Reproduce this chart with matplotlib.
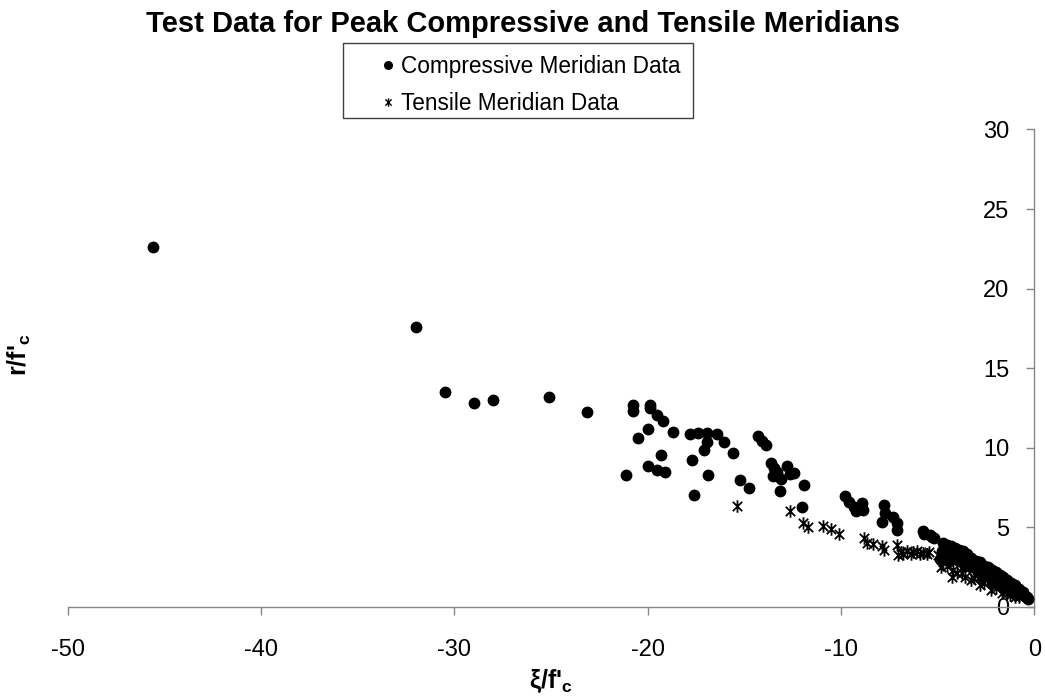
import matplotlib
matplotlib.use("Agg")
import matplotlib.pyplot as plt
from matplotlib.path import Path
from matplotlib.lines import Line2D
from matplotlib.patches import Rectangle

plt.rcParams['font.family'] = ['Liberation Sans', 'DejaVu Sans']
plt.rcParams['mathtext.fontset'] = 'custom'
plt.rcParams['mathtext.rm'] = 'Liberation Sans'
plt.rcParams['axes.unicode_minus'] = False

# Compressive meridian data (xi/f'c, r/f'c)
comp_xi = [-45.6, -32.0, -30.5, -29.0, -28.0, -25.1, -23.15,
           -20.75, -20.75, -19.9, -19.9, -19.5, -19.2, -18.7, -20.0, -20.5,
           -21.1, -20.0, -19.5, -19.1, -19.3,
           -17.8, -17.4, -16.95, -16.4, -16.95, -17.1, -16.05, -17.7, -15.6,
           -16.9, -17.6, -15.2, -14.75,
           -14.3, -14.1, -13.9, -13.6, -13.45, -13.3, -13.5, -13.1, -12.8,
           -12.65, -12.45, -13.15, -11.9, -12.0,
           -9.8, -9.6, -9.35, -9.25, -8.9, -8.85,
           -7.8, -7.7, -7.9, -7.3, -7.1, -7.1,
           -5.75, -5.4, -5.7, -5.3, -4.9,
           -5.2, -4.7, -4.5, -4.4, -4.3, -4.1, -4.0, -3.9, -3.8, -3.7, -3.6,
           -3.5, -3.4, -3.3, -3.2, -3.1, -3.0, -2.9, -2.8, -2.7, -2.6, -2.5,
           -2.4, -2.3, -2.2, -2.1, -2.0, -1.9, -1.8, -1.7, -1.6, -1.5, -1.4,
           -1.3, -1.2, -1.1, -1.0, -0.9, -0.8, -0.7, -0.6, -0.5, -0.4, -0.35,
           -3.9, -3.3, -2.7, -4.2, -4.6, -2.2, -1.6, -3.6, -1.0, -2.9, -4.8,
           -4.4]
comp_r = [22.6, 17.6, 13.5, 12.8, 13.0, 13.2, 12.25,
          12.7, 12.3, 12.7, 12.5, 12.05, 11.7, 11.0, 11.2, 10.6,
          8.3, 8.85, 8.6, 8.45, 9.55,
          10.85, 10.95, 10.95, 10.85, 10.35, 9.85, 10.35, 9.25, 9.7,
          8.3, 7.05, 7.95, 7.5,
          10.75, 10.45, 10.15, 9.05, 8.7, 8.5, 8.2, 8.05, 8.85,
          8.35, 8.4, 7.3, 7.65, 6.25,
          7.0, 6.6, 6.25, 6.05, 6.5, 6.1,
          6.4, 5.9, 5.35, 5.65, 5.3, 4.85,
          4.75, 4.5, 4.6, 4.4, 3.0,
          4.3, 4.0, 3.9, 3.6, 3.8, 3.7, 3.4, 3.6, 3.2, 3.5, 3.0,
          3.3, 2.7, 3.1, 2.9, 2.6, 2.9, 2.4, 2.8, 2.2, 2.6, 2.0,
          2.5, 1.9, 2.3, 1.7, 2.2, 1.6, 2.0, 1.5, 1.9, 1.3, 1.7,
          1.2, 1.5, 1.1, 1.35, 0.95, 1.15, 0.8, 0.95, 0.7, 0.6, 0.5,
          2.9, 2.5, 1.9, 3.1, 3.2, 1.5, 1.2, 2.6, 0.8, 2.2, 3.5,
          2.9]

# Tensile meridian data (xi/f'c, r/f'c)
tens_xi = [-15.4, -12.65, -11.95, -11.7, -10.95, -10.5, -10.1,
           -8.8, -8.65, -8.35, -7.9, -7.8,
           -7.1, -7.05, -6.9, -6.8, -6.6, -6.4, -6.3, -6.05, -5.9, -5.75,
           -5.55, -5.45,
           -5.0, -4.85, -4.75, -4.5, -4.25, -4.2, -4.0, -3.75, -3.6, -3.3,
           -3.1, -2.8, -2.6, -2.25, -2.0, -1.65, -1.4, -1.25, -1.0, -0.8]
tens_r = [6.35, 6.0, 5.3, 5.0, 5.1, 4.9, 4.6,
          4.3, 4.0, 3.95, 3.8, 3.6,
          3.9, 3.25, 3.45, 3.3, 3.5, 3.35, 3.45, 3.5, 3.35, 3.4,
          3.35, 3.45,
          3.25, 2.5, 2.85, 2.6, 1.9, 2.3, 2.1, 2.1, 1.9, 1.7,
          1.8, 1.4, 1.5, 1.05, 1.2, 0.85, 0.9, 0.75, 0.65, 0.6]

x_ticks = [-50, -40, -30, -20, -10, 0]
y_ticks = [0, 5, 10, 15, 20, 25, 30]

# asterisk-like marker: an X with a vertical bar
_STAR = Path([(0, -1), (0, 1), (-0.75, -0.75), (0.75, 0.75), (-0.75, 0.75), (0.75, -0.75)],
             [Path.MOVETO, Path.LINETO, Path.MOVETO, Path.LINETO, Path.MOVETO, Path.LINETO])
_GREY = '#868686'

fig = plt.figure(figsize=(10.45, 6.96), dpi=100)
ax = fig.add_axes([0.0648, 0.128, 0.925, 0.686])

ax.plot(comp_xi, comp_r, linestyle='none', marker='o', markersize=7.5,
        color='black', clip_on=False, zorder=3)
ax.plot(tens_xi, tens_r, linestyle='none', marker=_STAR, markersize=9,
        markeredgewidth=1.3, color='black', markerfacecolor='none',
        clip_on=False, zorder=2)

ax.set_xlim(-50, 0)
ax.set_ylim(0, 30)
ax.set_xticks(x_ticks)
ax.set_yticks(y_ticks)

ax.spines['top'].set_visible(False)
ax.spines['right'].set_visible(False)
ax.spines['left'].set_position(('data', 0))
for s in ('left', 'bottom'):
    ax.spines[s].set_color(_GREY)
    ax.spines[s].set_linewidth(1)
ax.tick_params(axis='both', colors=_GREY, labelcolor='black', labelsize=17,
               length=6, width=1, direction='out')
ax.tick_params(axis='x', pad=17)
ax.tick_params(axis='y', pad=12)

ax.set_xlabel("ξ/f'$_\\mathregular{c}$", fontsize=18, fontweight='bold')
ax.xaxis.set_label_coords(0.5, -0.125)
ax.set_ylabel("r/f'$_\\mathregular{c}$", fontsize=18, fontweight='bold')
ax.yaxis.set_label_coords(-0.036, 0.527)

fig.text(0.5, 0.966, 'Test Data for Peak Compressive and Tensile Meridians',
         ha='center', va='center', fontsize=21, fontweight='bold')

# legend with a plain rectangular frame
fig.patches.append(Rectangle((343 / 1045, 1 - 118 / 696), 350 / 1045, 75 / 696,
                             transform=fig.transFigure, fill=False,
                             edgecolor='#404040', linewidth=1))
handles = [Line2D([], [], linestyle='none', marker='o', markersize=5.5, color='black'),
           Line2D([], [], linestyle='none', marker=_STAR, markersize=6,
                  markeredgewidth=1, color='black')]
fig.legend(handles, ['Compressive Meridian Data', 'Tensile Meridian Data'],
           loc='upper left', bbox_to_anchor=(381 / 1045, 1 - 55 / 696),
           frameon=False, fontsize=16.3, handlelength=0.6, handletextpad=0.3,
           labelspacing=0.6, borderpad=0, borderaxespad=0)

fig.savefig('out.png', dpi=100)
